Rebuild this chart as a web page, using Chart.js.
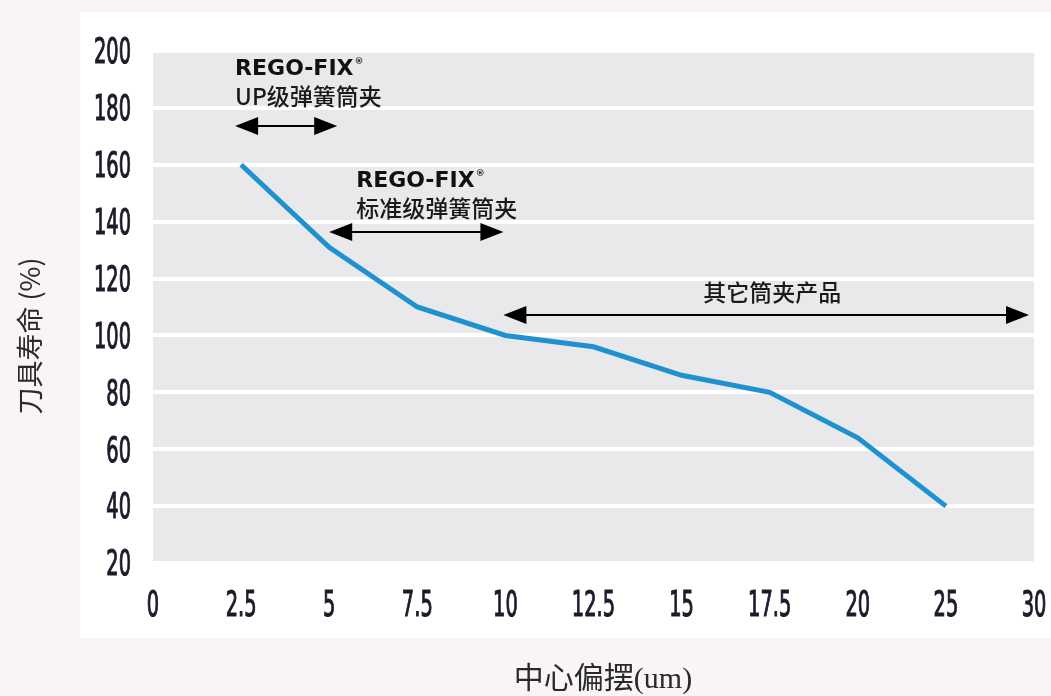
<!DOCTYPE html>
<html>
<head>
<meta charset="utf-8">
<script src="https://cdn.jsdelivr.net/npm/chart.js@4.4.1/dist/chart.umd.min.js"></script>
<style>
  html, body { margin: 0; padding: 0; background: #f8f5f4; }
  #wrap { width: 1051px; height: 696px; }
</style>
</head>
<body>
<div id="wrap"><canvas id="grafico" width="1051" height="696"></canvas></div>
<script>
// dados do gráfico
const xLabels = ['0', '2.5', '5', '7.5', '10', '12.5', '15', '17.5', '20', '25', '30'];
const toolLife = [null, 160, 131, 110, 100, 96, 86, 80, 64, 40, null];
const yTicks = [20, 40, 60, 80, 100, 120, 140, 160, 180, 200];

// faixas de cada tipo de pinça (de / até, em rótulos do eixo x)
const rangeFrom = ['2.5', '5', '10'];
const rangeTo = ['5', '10', '30'];
const rangeBrand = ['REGO-FIX', 'REGO-FIX', ''];
const rangeNames = ['UP级弹簧筒夹', '标准级弹簧筒夹', '其它筒夹产品'];

const xTitle = '中心偏摆(um)';
const yTitle = '刀具寿命 (%)';

// onde cada seta fica (valor no eixo y) e como o texto é colocado
const arrowLayout = [
    { level: 173.6, brandLevel: 193.7, nameLevel: 184.2, dx0: -6, dx1: 8, textX: 'left', textOff: 0 },
    { level: 136.4, brandLevel: 154.3, nameLevel: 144.8, dx0: 0, dx1: -2, textX: 'left', textOff: 27 },
    { level: 107.2, brandLevel: null, nameLevel: 115.3, dx0: -2, dx1: -5, textX: 'center', textOff: 6 }
];

const tickFont = '"DejaVu Sans Condensed", "DejaVu Sans", sans-serif';

const fundo = {
    id: 'fundo',
    beforeDraw(chart) {
        const { ctx, chartArea } = chart;
        ctx.save();
        ctx.fillStyle = '#f8f5f4';
        ctx.fillRect(0, 0, chart.width, chart.height);
        ctx.fillStyle = '#ffffff';
        ctx.fillRect(80, 12, chart.width - 80, 626);
        ctx.fillStyle = '#e9e9eb';
        ctx.fillRect(chartArea.left, chartArea.top, chartArea.right - chartArea.left, chartArea.bottom - chartArea.top);
        ctx.restore();
    }
};

// desenha os rótulos da escala apertados na horizontal (fonte estreita do original)
function rotulosEstreitos(sx) {
    return function () {
        const ctx = this.ctx;
        const items = this.getLabelItems(this.chart.chartArea);
        for (const item of items) {
            const o = item.options;
            ctx.save();
            ctx.translate(o.translation[0], o.translation[1]);
            ctx.scale(sx, 1);
            ctx.font = item.font.string;
            ctx.fillStyle = o.color;
            ctx.strokeStyle = o.color;
            ctx.lineWidth = 1.1;
            ctx.textAlign = o.textAlign;
            ctx.textBaseline = o.textBaseline;
            ctx.fillText(item.label, 0, item.textOffset);
            ctx.strokeText(item.label, 0, item.textOffset);
            ctx.restore();
        }
    };
}

function seta(ctx, x0, x1, y) {
    const head = 23, half = 9;
    ctx.beginPath();
    ctx.moveTo(x0 + head - 2, y);
    ctx.lineTo(x1 - head + 2, y);
    ctx.lineWidth = 2;
    ctx.strokeStyle = '#000';
    ctx.stroke();
    ctx.beginPath();
    ctx.moveTo(x0, y);
    ctx.lineTo(x0 + head, y - half);
    ctx.lineTo(x0 + head, y + half);
    ctx.closePath();
    ctx.moveTo(x1, y);
    ctx.lineTo(x1 - head, y - half);
    ctx.lineTo(x1 - head, y + half);
    ctx.closePath();
    ctx.fillStyle = '#000';
    ctx.fill();
}

const anotacoes = {
    id: 'anotacoes',
    afterDatasetsDraw(chart) {
        const { ctx, scales } = chart;
        const x = scales.x, y = scales.y;
        ctx.save();
        rangeNames.forEach((nome, i) => {
            const lay = arrowLayout[i];
            const x0 = x.getPixelForValue(xLabels.indexOf(rangeFrom[i])) + lay.dx0;
            const x1 = x.getPixelForValue(xLabels.indexOf(rangeTo[i])) + lay.dx1;
            seta(ctx, x0, x1, y.getPixelForValue(lay.level));

            const tx = (lay.textX === 'center' ? (x0 + x1) / 2 : x0) + lay.textOff;
            ctx.textBaseline = 'middle';
            ctx.fillStyle = '#111';
            if (rangeBrand[i]) {
                ctx.textAlign = 'left';
                ctx.font = 'bold 22px "DejaVu Sans", sans-serif';
                const by = y.getPixelForValue(lay.brandLevel);
                ctx.fillText(rangeBrand[i], tx, by);
                const w = ctx.measureText(rangeBrand[i]).width;
                ctx.font = 'bold 9px "DejaVu Sans", sans-serif';
                ctx.fillText('®', tx + w + 1, by - 7);
            }
            ctx.textAlign = lay.textX === 'center' ? 'center' : 'left';
            ctx.font = '500 23px "Noto Sans CJK SC", sans-serif';
            ctx.fillStyle = '#1a1a1a';
            ctx.fillText(nome, tx, y.getPixelForValue(lay.nameLevel));
        });

        // títulos dos eixos (ficam fora do painel branco)
        ctx.fillStyle = '#2a2a2a';
        ctx.textAlign = 'center';
        ctx.textBaseline = 'middle';
        ctx.font = '30px "Liberation Serif", "Noto Sans CJK SC", serif';
        ctx.fillText(xTitle, 603, 680);
        ctx.translate(30, 336);
        ctx.rotate(-Math.PI / 2);
        ctx.font = '27px "Noto Sans CJK SC", sans-serif';
        ctx.fillText(yTitle, 0, 0);
        ctx.restore();
    }
};

const ctx = document.getElementById('grafico').getContext('2d');

new Chart(ctx, {
    type: 'line',
    data: {
        labels: xLabels,
        datasets: [{
            data: toolLife,
            borderColor: '#1e91cf',
            borderWidth: 5,
            pointRadius: 0,
            tension: 0,
            fill: false
        }]
    },
    options: {
        responsive: false,
        animation: false,
        layout: { padding: { top: 51, right: 17, left: 0, bottom: 0 } },
        plugins: {
            legend: { display: false },
            tooltip: { enabled: false }
        },
        scales: {
            x: {
                type: 'category',
                offset: false,
                grid: { display: false, drawTicks: false },
                border: { display: false },
                ticks: {
                    padding: 22,
                    color: '#1b1b2a',
                    maxRotation: 0,
                    autoSkip: false,
                    font: { family: tickFont, size: 36 }
                },
                afterFit(scale) {
                    scale.height = 133;
                    scale.paddingLeft = 0;
                    scale.paddingRight = 0;
                    scale.drawLabels = rotulosEstreitos(0.6);
                }
            },
            y: {
                min: 20,
                max: 200,
                afterBuildTicks(scale) { scale.ticks = yTicks.map(v => ({ value: v })); },
                grid: { color: '#ffffff', lineWidth: 4, drawTicks: false },
                border: { display: false },
                ticks: {
                    padding: 22,
                    labelOffset: 3,
                    color: '#1b1b2a',
                    font: { family: tickFont, size: 36 }
                },
                afterFit(scale) {
                    scale.width = 153;
                    scale.drawLabels = rotulosEstreitos(0.6);
                }
            }
        }
    },
    plugins: [fundo, anotacoes]
});
</script>
</body>
</html>
